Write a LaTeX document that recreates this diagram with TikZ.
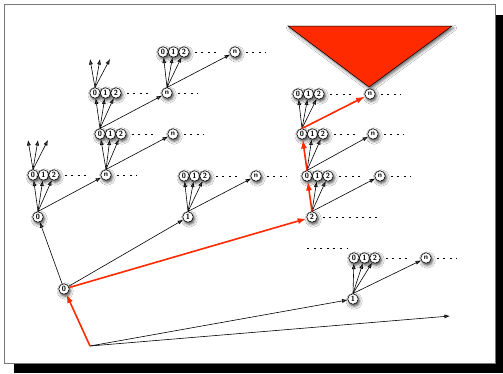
\documentclass[tikz,border=0pt]{standalone}
\usetikzlibrary{arrows.meta,shadows.blur}
\definecolor{redc}{RGB}{255,42,0}
\definecolor{framegray}{RGB}{120,120,120}
\newcommand\mkgrp[4]{%
  \node[nd] (#1a) at (#2,#3) {0};
  \node[nd] (#1b) at (#2+10.5,#3) {1};
  \node[nd] (#1c) at (#2+21,#3) {2};
  \node[nd] (#1n) at (#4,#3) {n};
  \draw[dotsline] ([xshift=5pt]#1c.east) -- ++(22,0);
  \draw[dotsline] ([xshift=5pt]#1n.east) -- ++(20,0);
}
\begin{document}
\begin{tikzpicture}[x=1pt,y=-1pt,
  nd/.style={circle,draw,fill=white,inner sep=0pt,minimum size=10.5pt,line width=0.6pt,
    font=\fontsize{7.5}{7.5}\selectfont\sffamily\bfseries,
    blur shadow={shadow xshift=1.2pt,shadow yshift=-2pt,shadow blur radius=3pt,shadow opacity=75}},
  blk/.style={-{Latex[length=5.5pt,width=4pt]},line width=0.6pt},
  rd/.style={-{Latex[length=9pt,width=6pt]},line width=1.6pt,draw=redc,color=redc},
  dotsline/.style={line width=1pt,dash pattern=on 2pt off 4.6pt}]
\useasboundingbox (0,0) rectangle (503,373);
% page with shadow
\fill[black] (14,15) rectangle (503,373);
\draw[framegray,fill=white,line width=0.8pt] (4,4) rectangle (495,363);
% triangle
\draw[fill=redc,line width=0.5pt,
  blur shadow={shadow xshift=1.5pt,shadow yshift=-2pt,shadow blur radius=3pt,shadow opacity=65}]
  (288,26) -- (452,26) -- (369,87) -- cycle;
% free points
\coordinate (R) at (90,346);
\coordinate (F) at (450,316);
\coordinate (u1) at (28,140);
\coordinate (u2) at (38,140);
\coordinate (u3) at (48,140);
\coordinate (v1) at (90,59);
\coordinate (v2) at (100,59);
\coordinate (v3) at (110,59);
\coordinate (w1) at (307,248);
\coordinate (w2) at (347,248);
% nodes
\node[nd] (A) at (64,289) {0};
\node[nd] (B) at (38,217) {0};
\node[nd] (C) at (188,217) {1};
\node[nd] (D) at (312,217) {2};
\node[nd] (E) at (353,299) {1};
\draw[dotsline] ([xshift=5pt]D.east) -- ++(56,0);
\draw[dotsline] (w1) -- (w2);
\mkgrp{G1}{33}{175}{106}
\mkgrp{G2}{184}{176}{256}
\mkgrp{G3}{307}{176}{380}
\mkgrp{G4}{354}{258}{426}
\mkgrp{G5}{100}{134}{173}
\mkgrp{G6}{302}{134}{373}
\mkgrp{G7}{95}{93}{167}
\mkgrp{G8}{298}{94}{370}
\mkgrp{G9}{163}{52}{235}
% black arrows
\draw[blk] (R) -- (E);
\draw[blk] (R) -- (F);
\draw[blk] (A) -- (B);
\draw[blk] (A) -- (C);
\foreach \p/\g in {B/G1,C/G2,E/G4,G1n/G5,G5a/G7,G7n/G9}{
  \draw[blk] (\p.north) -- (\g a);
  \draw[blk] (\p.north) -- (\g b);
  \draw[blk] (\p.north) -- (\g c);
  \draw[blk] (\p.north) -- (\g n);
}
\draw[blk] (D.north) -- (G3b);
\draw[blk] (D.north) -- (G3c);
\draw[blk] (D.north) -- (G3n);
\draw[blk] (G3a.north) -- (G6b);
\draw[blk] (G3a.north) -- (G6c);
\draw[blk] (G3a.north) -- (G6n);
\draw[blk] (G6a.north) -- (G8a);
\draw[blk] (G6a.north) -- (G8b);
\draw[blk] (G6a.north) -- (G8c);
\foreach \t in {u1,u2,u3}{\draw[blk] (G1a.north) -- (\t);}
\foreach \t in {v1,v2,v3}{\draw[blk] (G7a.north) -- (\t);}
% red arrows
\draw[rd] (R) -- (A);
\draw[rd] (A) -- (D);
\draw[rd] (D.north) -- (G3a);
\draw[rd] (G3a.north) -- (G6a);
\draw[rd] (G6a.north) -- (G8n);
\end{tikzpicture}
\end{document}
